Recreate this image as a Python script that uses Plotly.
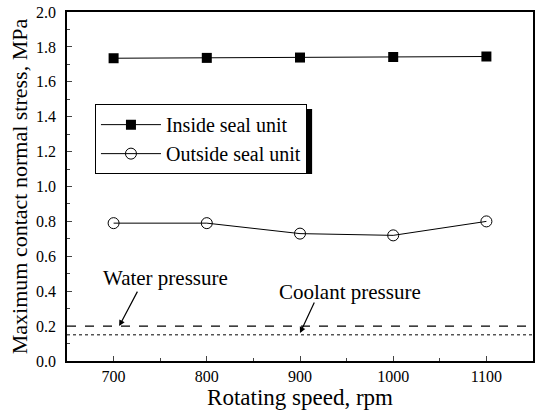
"""Contact normal stress vs rotating speed."""

import plotly.graph_objects as go

speed = [700, 800, 900, 1000, 1100]
inside_stress = [1.735, 1.737, 1.739, 1.742, 1.745]
outside_stress = [0.79, 0.79, 0.73, 0.72, 0.80]
water_pressure = 0.2
coolant_pressure = 0.15
x_range = [650, 1150]

FONT = 'Liberation Serif'

fig = go.Figure()

# Reference pressure lines
fig.add_trace(go.Scatter(
    x=x_range, y=[water_pressure] * 2, mode='lines',
    line=dict(color='black', width=1.2, dash='dash'), showlegend=False))
fig.add_trace(go.Scatter(
    x=x_range, y=[coolant_pressure] * 2, mode='lines',
    line=dict(color='black', width=1, dash='dot'), showlegend=False))

fig.add_trace(go.Scatter(
    x=speed, y=inside_stress, mode='lines+markers', name='Inside seal unit',
    line=dict(color='black', width=1),
    marker=dict(symbol='square', size=10, color='black')))
fig.add_trace(go.Scatter(
    x=speed, y=outside_stress, mode='lines+markers', name='Outside seal unit',
    line=dict(color='black', width=1),
    marker=dict(symbol='circle-open', size=11, color='black',
                line=dict(width=1))))

# Arrows and their labels
arrow = dict(showarrow=True, arrowhead=2, arrowsize=1, arrowwidth=1.2,
             arrowcolor='black', text='', axref='pixel', ayref='pixel')
fig.add_annotation(x=706, y=water_pressure, ax=19, ay=-36, **arrow)
fig.add_annotation(x=900, y=0.16, ax=15, ay=-32, **arrow)
label_font = dict(family=FONT, size=21, color='black')
fig.add_annotation(x=756, y=0.476, text='Water pressure', showarrow=False,
                   font=label_font)
fig.add_annotation(x=954, y=0.395, text='Coolant pressure', showarrow=False,
                   font=label_font)

# Legend shadow (the legend itself is drawn on top of it)
fig.add_shape(type='rect', xref='paper', yref='paper',
              x0=0.0705, x1=0.526, y0=0.536, y1=0.722,
              fillcolor='black', line=dict(width=0), layer='above')

fig.update_layout(
    width=539, height=415,
    margin=dict(l=67, r=4, t=12, b=54),
    plot_bgcolor='white', paper_bgcolor='white',
    font=dict(family=FONT, size=16, color='black'),
    legend=dict(
        x=0.06, y=0.736, xanchor='left', yanchor='top',
        bgcolor='white', bordercolor='black', borderwidth=1,
        font=dict(family=FONT, size=20), itemwidth=60,
        tracegroupgap=0),
    xaxis=dict(
        range=x_range, tickvals=speed, ticks='inside', ticklen=5,
        minor=dict(dtick=50, ticks='inside', ticklen=3),
        showline=True, linecolor='black', linewidth=1.5, mirror=True,
        showgrid=False, zeroline=False,
        tickfont=dict(size=16),
        title=dict(text='Rotating speed, rpm', font=dict(size=23),
                   standoff=2)),
    yaxis=dict(
        range=[0, 2.0], dtick=0.2, tickformat='.1f', ticks='inside',
        ticklen=5, minor=dict(dtick=0.1, ticks='inside', ticklen=3),
        showline=True, linecolor='black', linewidth=1.5, mirror=True,
        showgrid=False, zeroline=False, ticklabelstandoff=6,
        tickfont=dict(size=16),
        title=dict(text='Maximum contact normal stress, MPa',
                   font=dict(size=22), standoff=2)),
)

# drop the page's default body margin so the figure sits at the corner
fig.write_html('out.html', config={'displayModeBar': False},
               post_script="document.body.style.margin='0';")
